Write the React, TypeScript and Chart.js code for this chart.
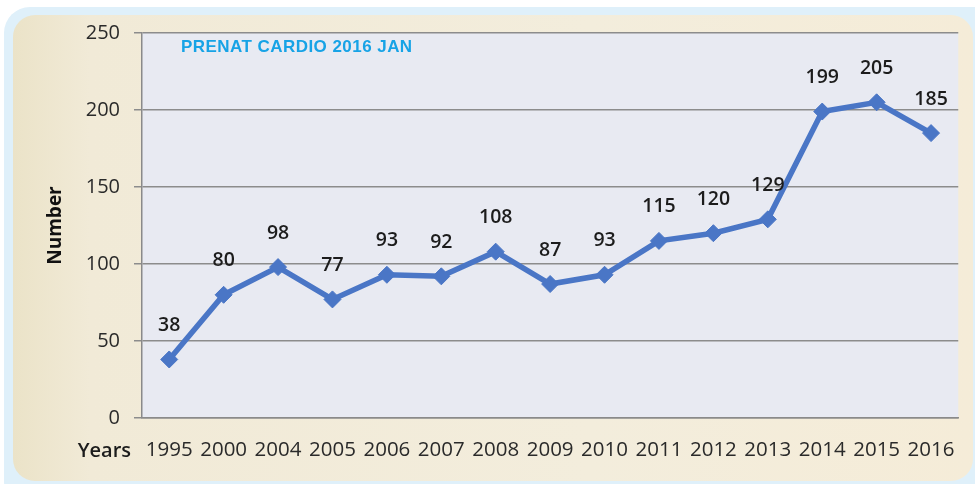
import React, { useEffect, useRef } from "react";
import { Chart, registerables } from "chart.js";

Chart.register(...registerables);

const years = ["1995", "2000", "2004", "2005", "2006", "2007", "2008", "2009", "2010", "2011", "2012", "2013", "2014", "2015", "2016"];
const counts = [38, 80, 98, 77, 93, 92, 108, 87, 93, 115, 120, 129, 199, 205, 185];
const yMin = 0;
const yMax = 250;
const yStep = 50;
const chartTitle = "PRENAT CARDIO 2016 JAN";
const yTitle = "Number";
const xTitle = "Years";

const FONT = "'Open Sans', 'Noto Sans', sans-serif";

export default function App() {
  const ref = useRef<HTMLCanvasElement | null>(null);

  useEffect(() => {
    if (!ref.current) return;
    const areaBg = {
      id: "areaBg",
      beforeDraw(chart: any) {
        const { ctx, chartArea } = chart;
        ctx.save();
        ctx.fillStyle = "#e8eaf2";
        ctx.fillRect(chartArea.left, chartArea.top, chartArea.right - chartArea.left, chartArea.bottom - chartArea.top);
        ctx.restore();
      },
    };
    const labels = {
      id: "valueLabels",
      afterDatasetsDraw(chart: any) {
        const { ctx } = chart;
        const meta = chart.getDatasetMeta(0);
        ctx.save();
        ctx.font = `600 19.5px ${FONT}`;
        ctx.fillStyle = "#1c1c1c";
        ctx.textAlign = "center";
        ctx.textBaseline = "middle";
        meta.data.forEach((pt: any, i: number) => {
          ctx.fillText(String(counts[i]), pt.x, pt.y - 34);
        });
        const xs = chart.scales.x;
        ctx.font = `600 20px ${FONT}`;
        ctx.textAlign = "right";
        ctx.fillText(xTitle, 131, xs.top + 33);
        ctx.restore();
      },
    };
    const chart = new Chart(ref.current, {
      type: "line",
      data: {
        labels: years,
        datasets: [
          {
            data: counts,
            borderColor: "#4a76c6",
            backgroundColor: "#4a76c6",
            borderWidth: 5.5,
            pointStyle: "rectRot",
            pointRadius: 8.5,
            pointBorderWidth: 1,
            tension: 0,
          },
        ],
      },
      options: {
        responsive: false,
        animation: false,
        layout: { padding: { top: 33, right: 15, left: 0, bottom: 0 } },
        plugins: { legend: { display: false }, tooltip: { enabled: false }, title: { display: false } },
        scales: {
          x: {
            offset: true,
            grid: { display: true, color: "rgba(0,0,0,0)", drawTicks: false },
            border: { display: true, color: "#8a8a8a", width: 1.5 },
            ticks: { color: "#2a2a2a", font: { family: FONT, size: 20.5 }, padding: 20, maxRotation: 0, autoSkip: false },
            afterFit: (s: any) => { s.height = 66; },
          },
          y: {
            min: yMin,
            max: yMax,
            ticks: { stepSize: yStep, color: "#2a2a2a", font: { family: FONT, size: 20 }, padding: 14 },
            grid: { color: "#8c8c8c", lineWidth: 1.5, tickLength: 8, drawTicks: true, tickColor: "#8c8c8c" },
            border: { display: true, color: "#8a8a8a", width: 1.5 },
            title: { display: true, text: yTitle, color: "#111", font: { family: FONT, size: 19, weight: "bold" }, padding: { top: 44, bottom: 0 } },
            afterFit: (s: any) => { s.width = 142; },
          },
        },
      },
      plugins: [areaBg, labels],
    });
    return () => chart.destroy();
  }, []);

  return (
    <div style={{ position: "absolute", left: 0, top: 0, width: 975, height: 484, background: "#ffffff", overflow: "hidden" }}>
      <div style={{ position: "absolute", left: 4, top: 7, width: 1000, height: 500, background: "#dff0fa", borderRadius: 26 }} />
      <div
        style={{
          position: "absolute",
          left: 13,
          top: 15,
          width: 960,
          height: 466,
          borderRadius: 22,
          background: "linear-gradient(90deg, #ebe3c8 0%, #f1ead7 8%, #f3eddc 60%, #f5ecd8 100%)",
        }}
      />
      <canvas ref={ref} width={975} height={484} style={{ position: "absolute", left: 0, top: 0 }} />
      <div
        style={{
          position: "absolute",
          left: 181,
          top: 37,
          color: "#17a3e6",
          fontFamily: "'Liberation Sans', Arial, sans-serif",
          fontWeight: "bold",
          fontSize: 17,
          letterSpacing: 0.45,
          whiteSpace: "nowrap",
          lineHeight: "20px",
        }}
      >
        {chartTitle}
      </div>
    </div>
  );
}
